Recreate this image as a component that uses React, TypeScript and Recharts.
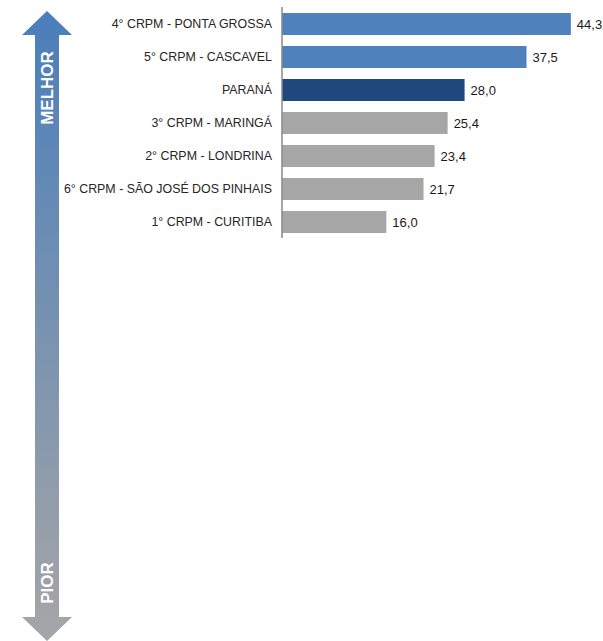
import React from "react";
import { BarChart, Bar, XAxis, YAxis, Cell, LabelList } from "recharts";

const regions = [
  "4° CRPM - PONTA GROSSA",
  "5° CRPM - CASCAVEL",
  "PARANÁ",
  "3° CRPM - MARINGÁ",
  "2° CRPM - LONDRINA",
  "6° CRPM - SÃO JOSÉ DOS PINHAIS",
  "1° CRPM - CURITIBA",
];
const values = [44.3, 37.5, 28.0, 25.4, 23.4, 21.7, 16.0];
const barColors = ["#4f81bd", "#4f81bd", "#1f497d", "#a6a6a6", "#a6a6a6", "#a6a6a6", "#a6a6a6"];

const data = regions.map((name, i) => ({ name, value: values[i] }));

const fmt = (v: number) => v.toFixed(1).replace(".", ",");

function Arrow() {
  return (
    <svg width={603} height={641} style={{ position: "absolute", left: 0, top: 0 }}>
      <defs>
        <linearGradient id="arrowGrad" x1="0" y1="0" x2="0" y2="1">
          <stop offset="0%" stopColor="#4a7ebb" />
          <stop offset="100%" stopColor="#a6a6a6" />
        </linearGradient>
      </defs>
      <polygon
        points="47,11 72,35 59,35 59,617 72,617 47,641 22,617 35,617 35,35 22,35"
        fill="url(#arrowGrad)"
      />
      <text
        x={47}
        y={88}
        transform="rotate(-90 47 88)"
        textAnchor="middle"
        dominantBaseline="central"
        fill="#fff"
        fontFamily="Liberation Sans, Arial, sans-serif"
        fontWeight="bold"
        fontSize={17}
      >
        MELHOR
      </text>
      <text
        x={47}
        y={583}
        transform="rotate(-90 47 583)"
        textAnchor="middle"
        dominantBaseline="central"
        fill="#fff"
        fontFamily="Liberation Sans, Arial, sans-serif"
        fontWeight="bold"
        fontSize={17}
      >
        PIOR
      </text>
    </svg>
  );
}

export default function App() {
  return (
    <div
      style={{
        position: "absolute",
        left: 0,
        top: 0,
        width: 603,
        height: 641,
        background: "#fff",
        fontFamily: "Liberation Sans, Arial, sans-serif",
      }}
    >
      <Arrow />
      <div style={{ position: "absolute", left: 0, top: 0 }}>
        <BarChart
          width={603}
          height={245}
          data={data}
          layout="vertical"
          margin={{ top: 7, right: 8, bottom: 7, left: 0 }}
        >
          <XAxis type="number" domain={[0, 48]} hide />
          <YAxis
            type="category"
            dataKey="name"
            width={282}
            tickLine={false}
            tickSize={8}
            tickMargin={2}
            axisLine={{ stroke: "#888888", strokeWidth: 1.5 }}
            tick={{ fontSize: 12.4, fill: "#262626" }}
          />
          <Bar dataKey="value" barSize={22} isAnimationActive={false}>
            {data.map((d, i) => (
              <Cell key={d.name} fill={barColors[i]} />
            ))}
            <LabelList
              dataKey="value"
              position="right"
              offset={6}
              formatter={(v: number) => fmt(v)}
              style={{ fontSize: 13, fill: "#1a1a1a" }}
            />
          </Bar>
        </BarChart>
      </div>
    </div>
  );
}
